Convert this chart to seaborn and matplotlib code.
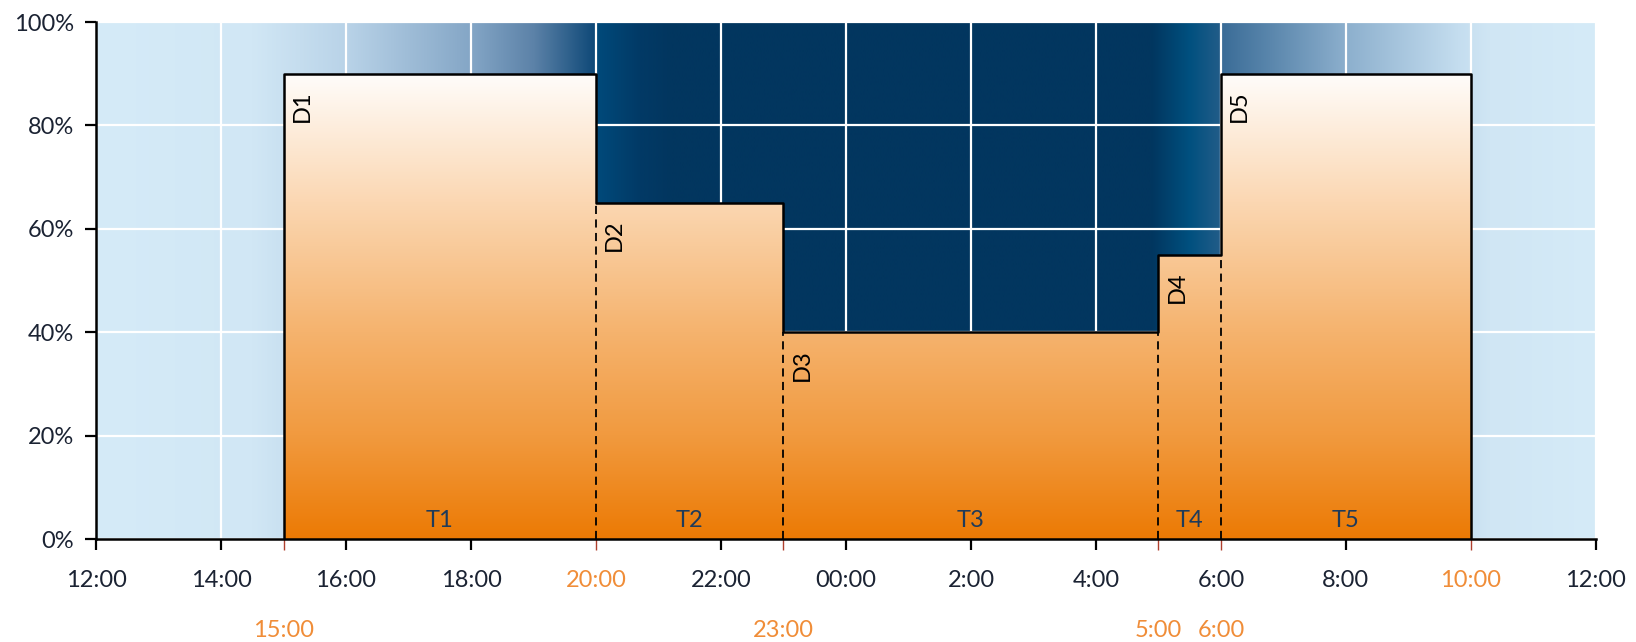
import numpy as np
import matplotlib
matplotlib.use("Agg")
import matplotlib.pyplot as plt
import seaborn as sns
import pandas as pd
from matplotlib.colors import LinearSegmentedColormap

# ---- data -------------------------------------------------------------
phase_start = ["15:00", "20:00", "23:00", "5:00", "6:00"]
phase_end = ["20:00", "23:00", "5:00", "6:00", "10:00"]
demand_pct = [90, 65, 40, 55, 90]
demand_labels = ["D1", "D2", "D3", "D4", "D5"]
period_labels = ["T1", "T2", "T3", "T4", "T5"]
hour_tick_labels = ["12:00", "14:00", "16:00", "18:00", "20:00", "22:00", "00:00",
                    "2:00", "4:00", "6:00", "8:00", "10:00", "12:00"]
boundary_tick_labels = ["15:00", "", "23:00", "5:00", "6:00", ""]
highlighted_hour_labels = ["20:00", "10:00"]


def hours_after_noon(clock):
    h, m = (int(v) for v in clock.split(":"))
    return (h + m / 60.0 - 12.0) % 24.0


starts = np.array([hours_after_noon(c) for c in phase_start])
ends = np.array([hours_after_noon(c) for c in phase_end])
vals = np.array(demand_pct, dtype=float)

# ---- style ------------------------------------------------------------
sns.set_style("ticks")
plt.rcParams["font.family"] = ["Lato", "DejaVu Sans"]
TEXT = "#1b2333"
ORANGE_TXT = "#f08d38"
RED_TICK = "#b0402e"

fig = plt.figure(figsize=(16.36, 6.42), dpi=100)
ax = fig.add_axes([0.0587, 0.1604, 0.9168, 0.8053])

# sky background: day / dusk / night / dawn / day
bg_stops = [
    (0.0, "#d5ebf8"), (2.5, "#d1e7f5"), (4.0, "#b9d3e8"), (6.0, "#84a6c6"),
    (7.0, "#5c82a8"), (7.97, "#0f4978"), (8.0, "#004a7b"), (8.7, "#023a66"),
    (9.2, "#02365f"), (16.9, "#02365f"), (17.5, "#00507f"), (17.98, "#215c88"),
    (18.02, "#3a6c97"), (20.0, "#8cafcd"), (21.8, "#c4ddef"), (22.3, "#d0e6f4"),
    (24.0, "#d5ebf8"),
]
bg_cmap = LinearSegmentedColormap.from_list("sky", [(p / 24.0, c) for p, c in bg_stops], N=1024)
ax.imshow(np.linspace(0, 1, 1024)[None, :], extent=(0, 24, 0, 100), cmap=bg_cmap,
          aspect="auto", origin="lower", zorder=0, interpolation="bilinear")

# demand profile: gradient-filled step area
step_x = np.append(starts, ends[-1])
step_y = np.append(vals, vals[-1])
area = ax.fill_between(step_x, step_y, step="post", facecolor="none", edgecolor="none", zorder=2)
fill_cmap = LinearSegmentedColormap.from_list(
    "demand", [(0.0, "#ec7a04"), (0.2, "#f19a3f"), (0.4, "#f5b36e"),
               (0.65, "#fbd7b2"), (0.9, "#fffdfb"), (1.0, "#ffffff")], N=512)
grad = ax.imshow(np.linspace(0, 1, 512)[:, None], extent=(0, 24, 0, 100), cmap=fill_cmap,
                 aspect="auto", origin="lower", zorder=2, interpolation="bilinear")
grad.set_clip_path(area.get_paths()[0], transform=ax.transData)

# outline of the profile
outline = pd.DataFrame({
    "x": np.concatenate([[starts[0]], starts, [ends[-1], ends[-1]]]),
    "y": np.concatenate([[0], vals, [vals[-1], 0]]),
})
sns.lineplot(data=outline, x="x", y="y", sort=False, estimator=None,
             drawstyle="steps-post", color="black", lw=1.8, ax=ax, zorder=4)

# dashed separators between consecutive periods
inner_x = starts[1:]
inner_top = np.minimum(vals[:-1], vals[1:])
ax.vlines(inner_x, 0, inner_top, colors="black", linestyles=(0, (4.5, 3)), lw=1.3, zorder=4)

# labels on the profile
for s, e, v, dl, tl in zip(starts, ends, vals, demand_labels, period_labels):
    ax.annotate(dl, xy=(s, v), xytext=(6, -12), textcoords="offset points",
                rotation=90, ha="left", va="top", fontsize=17, color="black", zorder=5)
    ax.annotate(tl, xy=((s + e) / 2, 0), xytext=(0, 6), textcoords="offset points",
                ha="center", va="bottom", fontsize=17, color="#1f3b5a", zorder=5)

# axes, ticks and grid
ax.set_xlim(0, 24)
ax.set_ylim(0, 100)
ax.xaxis.remove_overlapping_locs = False
ax.set_xticks(np.arange(0, 25, 2))
ax.set_xticklabels(hour_tick_labels)
boundary_pos = np.concatenate([starts, [ends[-1]]])
ax.set_xticks(boundary_pos, minor=True)
ax.set_xticklabels(boundary_tick_labels, minor=True)
ax.set_yticks(np.arange(0, 101, 20))
ax.set_yticklabels([f"{v}%" for v in range(0, 101, 20)])

ax.tick_params(axis="both", which="major", direction="out", length=8, width=1.6,
               color="black", labelsize=17, labelcolor=TEXT)
ax.tick_params(axis="x", which="major", pad=14)
ax.tick_params(axis="y", which="major", pad=8)
ax.tick_params(axis="x", which="minor", direction="out", length=8, width=1.0,
               color=RED_TICK, labelsize=17, labelcolor=ORANGE_TXT, pad=50)

for tick, lab in zip(ax.xaxis.get_major_ticks(), hour_tick_labels):
    if lab in highlighted_hour_labels:
        tick.label1.set_color(ORANGE_TXT)
for tick, pos in zip(ax.xaxis.get_major_ticks(), np.arange(0, 25, 2)):
    if np.any(np.isclose(boundary_pos, pos)):
        tick.tick1line.set_visible(False)

ax.set_axisbelow(True)
ax.grid(True, which="major", color="white", lw=1.6)
ax.grid(False, which="minor")
sns.despine(ax=ax, top=True, right=True)
for side in ("left", "bottom"):
    ax.spines[side].set_linewidth(1.8)
    ax.spines[side].set_color("black")
    ax.spines[side].set_zorder(6)
ax.set_xlabel("")
ax.set_ylabel("")

fig.savefig("out.png", dpi=100)
